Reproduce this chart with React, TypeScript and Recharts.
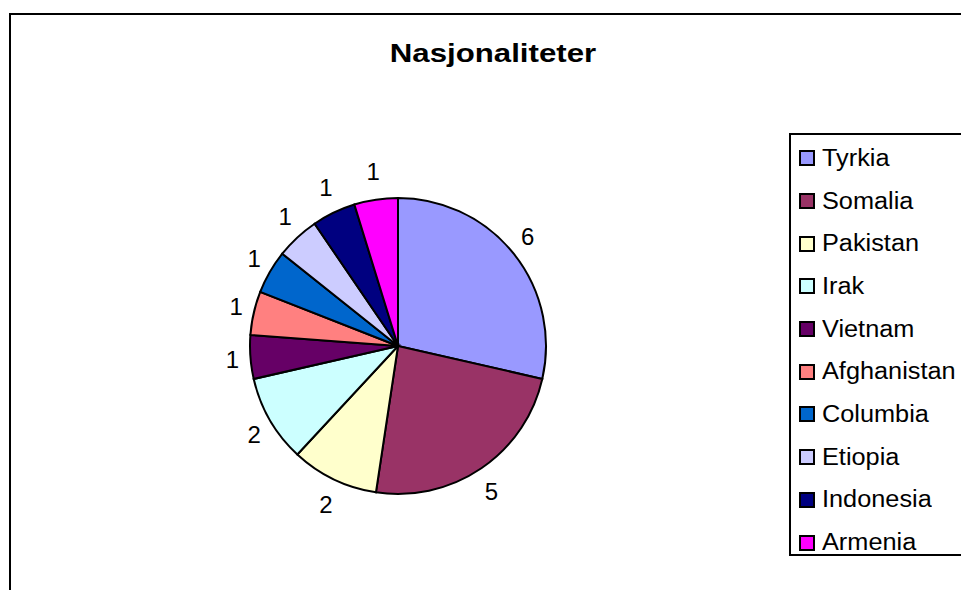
import { PieChart, Pie, Cell, Legend } from "recharts";

const landNavn = [
  "Tyrkia",
  "Somalia",
  "Pakistan",
  "Irak",
  "Vietnam",
  "Afghanistan",
  "Columbia",
  "Etiopia",
  "Indonesia",
  "Armenia",
];
const antall = [6, 5, 2, 2, 1, 1, 1, 1, 1, 1];
const farger = [
  "#9999FF",
  "#993366",
  "#FFFFCC",
  "#CCFFFF",
  "#660066",
  "#FF8080",
  "#0066CC",
  "#CCCCFF",
  "#000080",
  "#FF00FF",
];

const data = landNavn.map((navn, i) => ({ navn, verdi: antall[i] }));

const FONT = "'Liberation Sans', Arial, sans-serif";
const RAD = Math.PI / 180;

// Excel-aktig plassering av tallene utenfor sektorene
function renderEtikett(props: any) {
  const { cx, cy, midAngle, value } = props;
  const dx = Math.cos(-midAngle * RAD);
  const dy = Math.sin(-midAngle * RAD);
  const x = cx + dx * 166;
  const y = cy + dy * 176;
  return (
    <text
      x={x}
      y={y}
      textAnchor="middle"
      dominantBaseline="central"
      fill="#000"
      fontSize={24}
      fontFamily={FONT}
    >
      {value}
    </text>
  );
}

function Forklaring() {
  return (
    <div
      style={{
        border: "2px solid #000",
        borderRight: "none",
        background: "#fff",
        width: 172,
        height: 423,
        boxSizing: "border-box",
        paddingTop: 2,
        paddingLeft: 8,
      }}
    >
      {landNavn.map((navn, i) => (
        <div
          key={navn}
          style={{
            display: "flex",
            alignItems: "center",
            height: 42.7,
            fontFamily: FONT,
            fontSize: 23,
            color: "#000",
          }}
        >
          <span
            style={{
              display: "inline-block",
              width: 16,
              height: 16,
              boxSizing: "border-box",
              border: "2px solid #000",
              background: farger[i],
              marginRight: 7,
              flexShrink: 0,
            }}
          />
          <span
            style={{
              display: "inline-block",
              transform: "scaleX(1.1)",
              transformOrigin: "left center",
              whiteSpace: "nowrap",
            }}
          >
            {navn}
          </span>
        </div>
      ))}
    </div>
  );
}

export default function App() {
  return (
    <div
      style={{
        position: "fixed",
        left: 0,
        top: 0,
        width: 961,
        height: 590,
        background: "#fff",
        overflow: "hidden",
      }}
    >
      <div
        style={{
          position: "absolute",
          left: 9,
          top: 13,
          width: 1000,
          height: 700,
          border: "2px solid #000",
          boxSizing: "border-box",
        }}
      />
      <div
        style={{
          position: "absolute",
          left: 0,
          width: 986,
          top: 38,
          textAlign: "center",
          fontFamily: FONT,
          fontWeight: "bold",
          fontSize: 26,
          color: "#000",
          transform: "scaleX(1.2)",
          transformOrigin: "493px 0",
        }}
      >
        Nasjonaliteter
      </div>
      <PieChart width={961} height={590} style={{ position: "absolute", left: 0, top: 0 }}>
        <Pie
          data={data}
          dataKey="verdi"
          nameKey="navn"
          cx={393}
          cy={341}
          outerRadius={148}
          startAngle={90}
          endAngle={-270}
          stroke="#000"
          strokeWidth={2}
          label={renderEtikett}
          labelLine={false}
          isAnimationActive={false}
        >
          {data.map((d, i) => (
            <Cell key={d.navn} fill={farger[i]} />
          ))}
        </Pie>
        <Legend
          content={() => <Forklaring />}
          wrapperStyle={{ position: "absolute", left: 789, top: 133, width: 172 }}
        />
      </PieChart>
    </div>
  );
}
